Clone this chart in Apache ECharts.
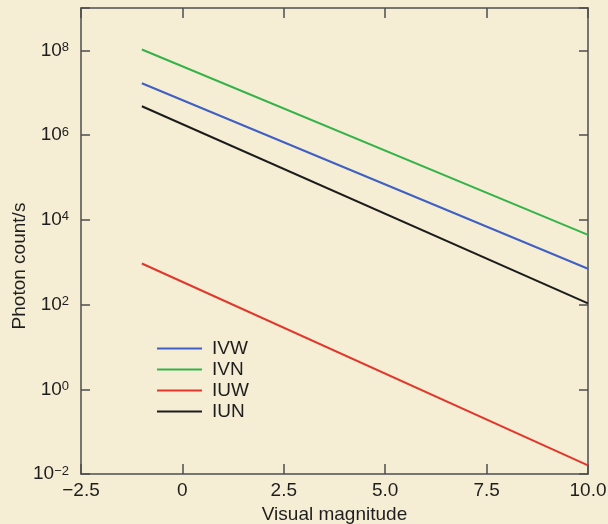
<!DOCTYPE html>
<html>
<head>
<meta charset="utf-8">
<script src="https://cdn.jsdelivr.net/npm/echarts@6/dist/echarts.min.js"></script>
<style>
  html, body { margin: 0; padding: 0; background: #f6eed4; }
  #main { width: 608px; height: 524px; }
</style>
</head>
<body>
<div id="main"></div>
<script>
// visual magnitude at the ends of each (straight) line
const magnitudes = [-1, 10]
// photon count/s
const ivw = [1.67e7, 700]
const ivn = [1.05e8, 4400]
const iuw = [930, 0.016]
const iun = [4.8e6, 107]

const seriesNames = ['IVW', 'IVN', 'IUW', 'IUN']
const seriesValues = [ivw, ivn, iuw, iun]
const seriesColors = ['#3f5fc4', '#35b34a', '#e2362b', '#1c1c1c']

const font = 'Liberation Sans, Arial, sans-serif'
const axisColor = '#4d4d4d'

function minusSign(s) {
  return String(s).replace('-', '\u2212')
}

function powLabel(value) {
  let e = Math.round(Math.log10(value))
  if (e % 2 !== 0) return ''
  return '{b|10}{s|' + minusSign(e) + '}'
}

function magLabel(value) {
  if (value === 0) return '0'
  return minusSign(value.toFixed(1))
}

let myChart = echarts.init(document.getElementById('main'))

const richLabel = {
  b: { fontSize: 19, fontFamily: font, color: '#1e1e1e' },
  s: { fontSize: 13, fontFamily: font, color: '#1e1e1e', verticalAlign: 'top' }
}

myChart.setOption({
  backgroundColor: '#f6eed4',
  animation: false,
  grid: { left: 81, right: 20, top: 8, bottom: 50, outerBoundsMode: 'none' },
  legend: {
    orient: 'vertical',
    left: 157,
    top: 339,
    padding: 0,
    icon: 'rect',
    itemWidth: 45,
    itemHeight: 2,
    itemGap: 2,
    textStyle: { fontSize: 19, fontFamily: font, color: '#1e1e1e', padding: [0, 0, 0, 5] },
    data: seriesNames
  },
  xAxis: [
    {
      type: 'value',
      min: -2.5,
      max: 10,
      interval: 2.5,
      name: 'Visual magnitude',
      nameLocation: 'middle',
      nameGap: 31,
      nameMoveOverlap: false,
      nameTextStyle: { fontSize: 19, fontFamily: font, color: '#1e1e1e' },
      axisLine: { onZero: false, lineStyle: { color: axisColor, width: 1.5 } },
      axisTick: { inside: true, length: 10, lineStyle: { color: axisColor, width: 1.5 } },
      axisLabel: { formatter: magLabel, fontSize: 19, fontFamily: font, color: '#1e1e1e', margin: 7 },
      splitLine: { show: false }
    },
    {
      type: 'value',
      position: 'top',
      min: -2.5,
      max: 10,
      interval: 2.5,
      axisLine: { onZero: false, lineStyle: { color: axisColor, width: 1.5 } },
      axisTick: { inside: true, length: 10, lineStyle: { color: axisColor, width: 1.5 } },
      axisLabel: { show: false },
      splitLine: { show: false }
    }
  ],
  yAxis: [
    {
      type: 'log',
      logBase: 10,
      min: 0.01,
      max: 1e9,
      interval: 2,
      name: 'Photon count/s',
      nameLocation: 'middle',
      nameGap: 52,
      nameMoveOverlap: false,
      nameTextStyle: { fontSize: 19, fontFamily: font, color: '#1e1e1e', padding: [0, 50, 0, 0] },
      axisLine: { show: true, onZero: false, lineStyle: { color: axisColor, width: 1.5 } },
      axisTick: { show: true, inside: true, length: 9, lineStyle: { color: axisColor, width: 1.5 } },
      axisLabel: { formatter: powLabel, margin: 12, rich: richLabel },
      splitLine: { show: false },
      minorTick: { show: false }
    },
    {
      type: 'log',
      logBase: 10,
      position: 'right',
      min: 0.01,
      max: 1e9,
      interval: 2,
      axisLine: { show: true, onZero: false, lineStyle: { color: axisColor, width: 1.5 } },
      axisTick: { show: true, inside: true, length: 9, lineStyle: { color: axisColor, width: 1.5 } },
      axisLabel: { show: false },
      splitLine: { show: false }
    }
  ],
  series: seriesNames.map((name, i) => ({
    name: name,
    type: 'line',
    symbol: 'none',
    color: seriesColors[i],
    lineStyle: { width: 2, color: seriesColors[i] },
    data: magnitudes.map((m, j) => [m, seriesValues[i][j]])
  }))
})
</script>
</body>
</html>
